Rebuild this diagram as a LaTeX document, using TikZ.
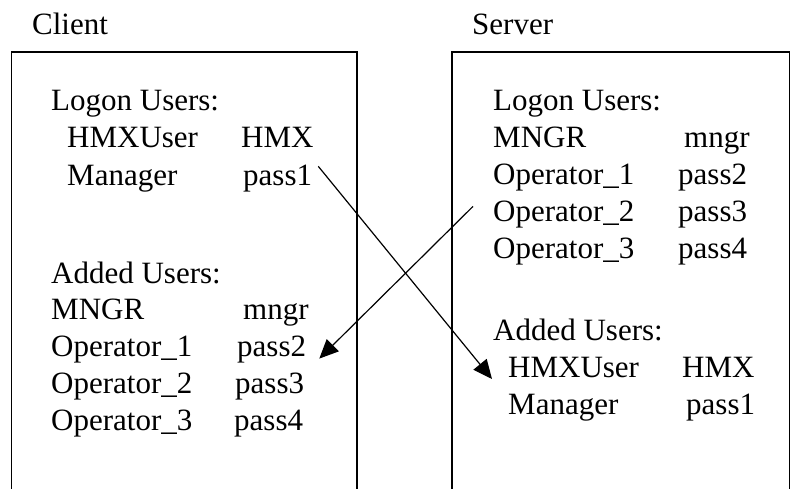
\documentclass[tikz,border=0pt]{standalone}
\usepackage{fontspec}
\setmainfont{Liberation Serif}
\usetikzlibrary{arrows.meta}

\begin{document}
\begin{tikzpicture}[x=1pt, y=-1pt, font=\fontsize{31}{37}\selectfont,
    txt/.style={anchor=base west, inner sep=0pt},
    frame/.style={line width=1.4pt},
    arr/.style={-{Triangle[length=19pt, width=17pt]}, line width=1.2pt}]
    \useasboundingbox (0,0) rectangle (791,489);
    % titles
    \node[txt] (client) at (32,35) {Client};
    \node[txt] (server) at (472,35) {Server};
    % the two boxes, bottom cut off
    \draw[frame] (11.5,489) -- (11.5,52) -- (357,52) -- (357,489);
    \draw[frame] (452,489) -- (452,52) -- (789.5,52) -- (789.5,489);
    % client side
    \node[txt] (cl) at (51,111) {Logon Users:};
    \node[txt] (cln1) at (67,148) {HMXUser};
    \node[txt] (clp1) at (241,148) {HMX};
    \node[txt] (cln2) at (67,185) {Manager};
    \node[txt] (clp2) at (243,185) {pass1};
    \node[txt] (ca) at (51,283) {Added Users:};
    \foreach \nm/\pw/\px [count=\i] in {MNGR/mngr/243, Operator\_1/pass2/237, Operator\_2/pass3/235, Operator\_3/pass4/234} {
        \node[txt] (can\i) at (51,283+\i*36.8) {\nm};
        \node[txt] (cap\i) at (\px,283+\i*36.8) {\pw};
    }
    % server side
    \node[txt] (sl) at (493,111) {Logon Users:};
    \foreach \nm/\pw/\px [count=\i] in {MNGR/mngr/684, Operator\_1/pass2/678, Operator\_2/pass3/678, Operator\_3/pass4/678} {
        \node[txt] (sln\i) at (493,111+\i*36.8) {\nm};
        \node[txt] (slp\i) at (\px,111+\i*36.8) {\pw};
    }
    \node[txt] (sa) at (493,340) {Added Users:};
    \node[txt] (san1) at (508,377) {HMXUser};
    \node[txt] (sap1) at (682,377) {HMX};
    \node[txt] (san2) at (508,414) {Manager};
    \node[txt] (sap2) at (686,414) {pass1};
    % crossing arrows
    \draw[arr] ([shift={(6,2)}]clp2.north east) -- ([shift={(-16,2)}]san1.base west);
    \draw[arr] ([shift={(-20,-15)}]sln3.base west) -- ([shift={(13,2)}]cap2.base east);
\end{tikzpicture}
\end{document}
